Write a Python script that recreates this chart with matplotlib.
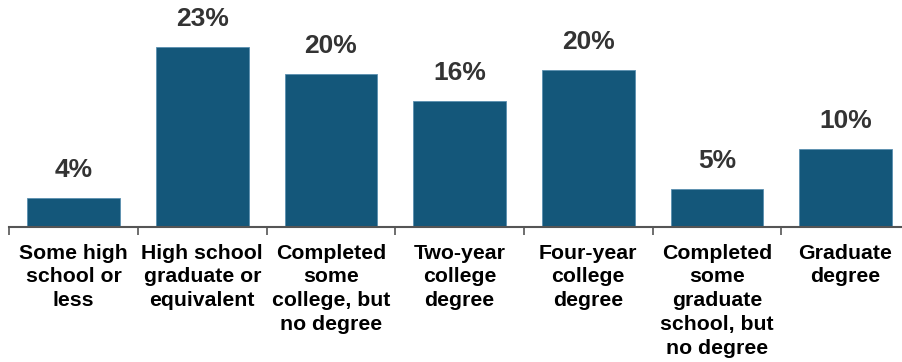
import matplotlib
matplotlib.use("Agg")
import matplotlib.pyplot as plt

categories = [
    "Some high\nschool or\nless",
    "High school\ngraduate or\nequivalent",
    "Completed\nsome\ncollege, but\nno degree",
    "Two-year\ncollege\ndegree",
    "Four-year\ncollege\ndegree",
    "Completed\nsome\ngraduate\nschool, but\nno degree",
    "Graduate\ndegree",
]
values = [3.7, 23.0, 19.6, 16.1, 20.1, 4.8, 9.9]
labels = ["4%", "23%", "20%", "16%", "20%", "5%", "10%"]

plt.rcParams['font.family'] = ['Liberation Sans', 'DejaVu Sans']

W, H = 902, 362
fig = plt.figure(figsize=(W / 100, H / 100), dpi=100)
base_px = 227
left_px = 9.3
ax = fig.add_axes([left_px / W, (H - base_px) / H, 1 - left_px / W, base_px / H])

x = list(range(len(categories)))
ax.bar(x, values, width=0.72, color="#14577A", edgecolor="#5a8fb0", linewidth=0.6, zorder=2)
for xi, v, lab in zip(x, values, labels):
    ax.annotate(lab, (xi, v), xytext=(0, 16), textcoords="offset pixels",
                ha="center", va="bottom", fontsize=19, fontweight="bold", color="#333333")

for s in ["top", "right", "left"]:
    ax.spines[s].set_visible(False)
ax.spines["bottom"].set_color("#555555")
ax.spines["bottom"].set_linewidth(1.5)
ax.set_yticks([])
ax.set_xticks([i - 0.5 for i in range(len(categories) + 1)])
ax.set_xticklabels([])
ax.tick_params(axis="x", length=6, width=1.2, color="#555555", direction="out")
ax.set_xticks(x, minor=True)
ax.set_xticklabels(categories, minor=True, fontsize=15.3, fontweight="bold", color="black",
                   linespacing=1.32, va="top")
ax.tick_params(axis="x", which="minor", length=0, pad=12)

unit = 128.65
ax.set_xlim(-0.5, -0.5 + (W - left_px) / unit)
ax.set_ylim(0, base_px / 7.83)

fig.savefig("out.png", dpi=100)
